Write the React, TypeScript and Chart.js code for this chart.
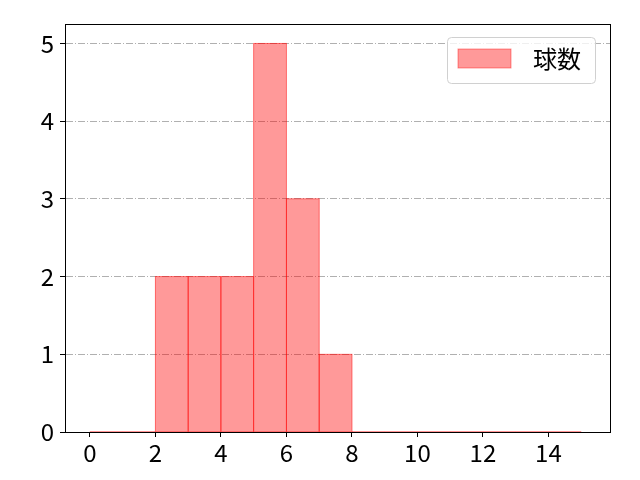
import React, { useEffect, useRef } from "react";
import { Chart, registerables, Plugin } from "chart.js";

Chart.register(...registerables);

// histogram bins (left edges), counts per bin
const binStarts = [0, 1, 2, 3, 4, 5, 6, 7, 8, 9, 10, 11, 12, 13, 14];
const counts = [0, 0, 2, 2, 2, 5, 3, 1, 0, 0, 0, 0, 0, 0, 0];
const xTicks = [0, 2, 4, 6, 8, 10, 12, 14];
const yTicks = [0, 1, 2, 3, 4, 5];
const seriesLabel = "球数";

const FONT = "'Noto Sans CJK JP', 'Noto Sans', sans-serif";
const FILL = "rgba(255,0,0,0.4)";
const EDGE = "rgba(255,0,0,0.4)";

// stroke each bar outline centred on its edges, like matplotlib patches
const edgePlugin: Plugin = {
  id: "edges",
  afterDatasetsDraw(chart) {
    const { ctx } = chart;
    const meta = chart.getDatasetMeta(0);
    ctx.save();
    ctx.strokeStyle = EDGE;
    ctx.lineWidth = 1;
    meta.data.forEach((el: any) => {
      const left = el.x - el.width / 2;
      const top = Math.min(el.y, el.base);
      const h = Math.abs(el.base - el.y);
      ctx.strokeRect(left, top, el.width, h);
    });
    ctx.restore();
  },
};

const framePlugin: Plugin = {
  id: "frame",
  afterDraw(chart) {
    const { ctx, chartArea } = chart;
    ctx.save();
    ctx.strokeStyle = "#000";
    ctx.lineWidth = 1;
    ctx.setLineDash([]);
    ctx.strokeRect(
      Math.round(chartArea.left) + 0.5,
      Math.round(chartArea.top) + 0.5,
      Math.round(chartArea.right - chartArea.left),
      Math.round(chartArea.bottom - chartArea.top)
    );

    // legend box, top right inside the plot
    const w = 148;
    const h = 46;
    const x = chartArea.right - 15 - w;
    const y = chartArea.top + 13;
    ctx.beginPath();
    ctx.roundRect(x + 0.5, y + 0.5, w, h, 4);
    ctx.fillStyle = "rgba(255,255,255,0.8)";
    ctx.fill();
    ctx.strokeStyle = "#d0d0d0";
    ctx.stroke();

    ctx.fillStyle = FILL;
    ctx.fillRect(x + 11, y + 12, 53, 19);
    ctx.strokeStyle = EDGE;
    ctx.strokeRect(x + 11, y + 12, 53, 19);

    ctx.fillStyle = "#000";
    ctx.font = `24px ${FONT}`;
    ctx.textBaseline = "middle";
    ctx.textAlign = "left";
    ctx.fillText(String(chart.data.datasets[0].label), x + 86, y + 22);
    ctx.restore();
  },
};

export default function App() {
  const canvasRef = useRef<HTMLCanvasElement>(null);

  useEffect(() => {
    document.body.style.margin = "0";
    const ctx = canvasRef.current?.getContext("2d");
    if (!ctx) return;

    const chart = new Chart(ctx, {
      type: "bar",
      data: {
        datasets: [
          {
            label: seriesLabel,
            data: binStarts.map((b, i) => ({ x: b + 0.5, y: counts[i] })),
            backgroundColor: FILL,
            borderWidth: 0,
            barPercentage: 1,
            categoryPercentage: 1,
          },
        ],
      },
      options: {
        responsive: false,
        animation: false,
        layout: { padding: { left: 0, right: 30, top: 24, bottom: 0 } },
        plugins: {
          legend: { display: false },
          tooltip: { enabled: false },
        },
        scales: {
          x: {
            type: "linear",
            offset: false,
            min: -0.76,
            max: 15.88,
            afterBuildTicks: (scale) => {
              scale.ticks = xTicks.map((v) => ({ value: v }));
            },
            afterFit: (scale) => {
              scale.height = 48;
            },
            grid: {
              offset: false,
              drawOnChartArea: false,
              drawTicks: true,
              tickLength: 5,
              tickColor: "#000",
            },
            border: { display: true, color: "#000" },
            ticks: {
              color: "#000",
              font: { family: FONT, size: 24 },
              padding: 1,
              maxRotation: 0,
              autoSkip: false,
            },
          },
          y: {
            min: 0,
            max: 5.25,
            afterBuildTicks: (scale) => {
              scale.ticks = yTicks.map((v) => ({ value: v }));
            },
            afterFit: (scale) => {
              scale.width = 65;
            },
            grid: {
              color: "#b0b0b0",
              lineWidth: 1,
              tickBorderDash: [],
              tickColor: "#000",
              tickLength: 5,
            },
            border: { display: true, color: "#000", dash: [7, 2, 1, 2] },
            ticks: {
              color: "#000",
              font: { family: FONT, size: 24 },
              padding: 6,
              autoSkip: false,
            },
          },
        },
      },
      plugins: [edgePlugin, framePlugin],
    });

    return () => {
      chart.destroy();
    };
  }, []);

  return (
    <div style={{ position: "absolute", left: 0, top: 0, width: 640, height: 480 }}>
      <canvas ref={canvasRef} width={640} height={480} />
    </div>
  );
}
